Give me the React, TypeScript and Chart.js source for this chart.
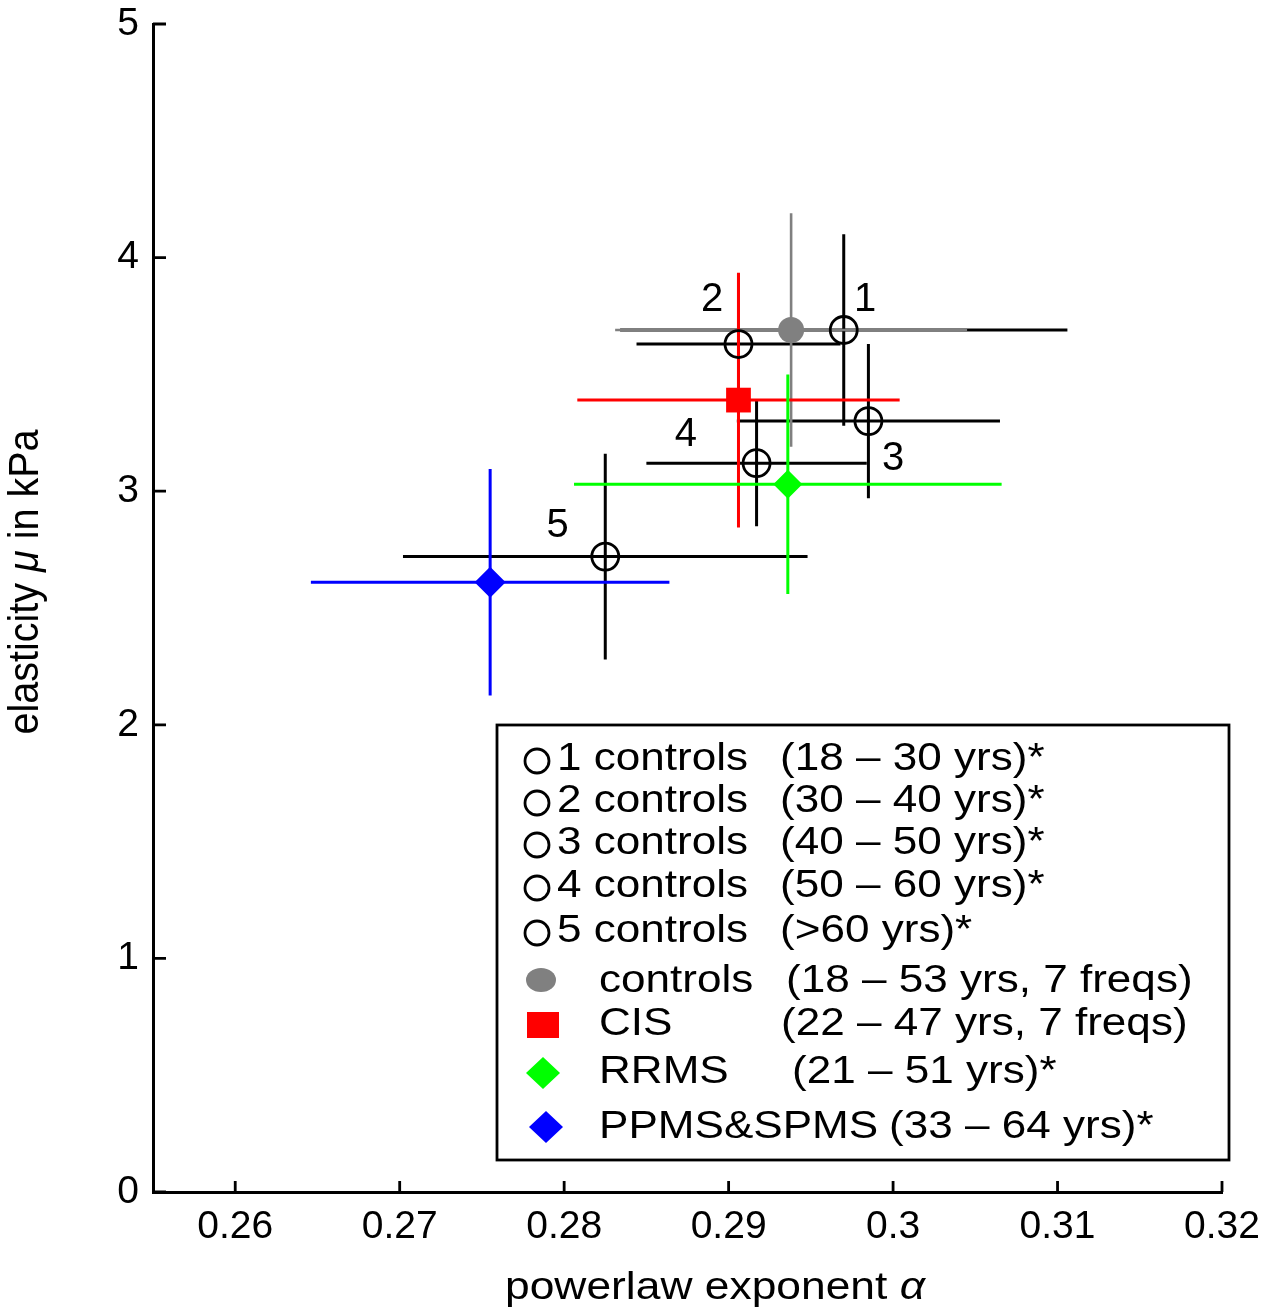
import React, { useEffect, useRef } from 'react';
import { Chart, registerables } from 'chart.js';

Chart.register(...registerables);

// ---------- data ----------
const groupNames = ['1 controls', '2 controls', '3 controls', '4 controls', '5 controls', 'controls', 'CIS', 'RRMS', 'PPMS&SPMS'];
const groupRanges = ['(18 – 30 yrs)*', '(30 – 40 yrs)*', '(40 – 50 yrs)*', '(50 – 60 yrs)*', '(>60 yrs)*', '(18 – 53 yrs, 7 freqs)', '(22 – 47 yrs, 7 freqs)', '(21 – 51 yrs)*', '(33 – 64 yrs)*'];
const alphaMean = [0.2970, 0.2906, 0.2985, 0.2917, 0.2825, 0.2938, 0.2906, 0.2936, 0.2755];
const alphaErr = [0.0136, 0.0062, 0.0080, 0.0067, 0.0123, 0.0107, 0.0098, 0.0130, 0.0109];
const muMean = [3.69, 3.63, 3.30, 3.12, 2.72, 3.69, 3.39, 3.03, 2.61];
const muErr = [0.41, 0.30, 0.33, 0.27, 0.44, 0.50, 0.545, 0.47, 0.485];
const pointLabels = ['1', '2', '3', '4', '5'];
const pointLabelX = [0.2983, 0.2890, 0.3000, 0.2874, 0.2796];
const pointLabelY = [3.82, 3.82, 3.14, 3.24, 2.85];
const xTicks = [0.26, 0.27, 0.28, 0.29, 0.30, 0.31, 0.32];
const yTicks = [0, 1, 2, 3, 4, 5];
const xTitle = 'powerlaw exponent ';
const xTitleSymbol = 'α';
const yTitleA = 'elasticity ';
const yTitleSymbol = 'μ';
const yTitleB = ' in kPa';

// ---------- styles ----------
const W = 1288;
const H = 1313;
const FONT = '"Liberation Sans", Arial, Helvetica, sans-serif';
const colors = ['#000000', '#000000', '#000000', '#000000', '#000000', '#808080', '#ff0000', '#00ff00', '#0000ff'];
const styles = ['circle', 'circle', 'circle', 'circle', 'circle', 'circle', 'rect', 'rectRot', 'rectRot'];
const radii = [13.5, 13.5, 13.5, 13.5, 13.5, 13, 17.5, 14.5, 15.5];
const barWidths = [3, 3, 3, 3, 3, 2.6, 3, 3, 3];

// legend layout (page pixels)
const LEG = { left: 497, top: 725, right: 1229, bottom: 1160 };
const legMarkerY = [761, 803, 845, 888, 933, 980, 1025, 1073, 1127];
const legMarkerX = [537, 537, 537, 537, 537, 541, 543, 543, 546];
const legBaseline = [770, 812, 854, 897, 942, 992, 1035, 1083, 1138];
const legNameX = [557, 557, 557, 557, 557, 599, 599, 599, 599];
const legRangeX = [780, 780, 780, 780, 780, 786, 781, 792, 889];

function drawText(ctx: CanvasRenderingContext2D, text: string, x: number, y: number, font: string, sx: number) {
  ctx.save();
  ctx.font = font;
  ctx.translate(x, y);
  ctx.scale(sx, 1);
  ctx.fillText(text, 0, 0);
  ctx.restore();
}

const customPlugin = {
  id: 'customDraw',
  beforeDatasetsDraw(chart: any) {
    const { ctx } = chart;
    const xs = chart.scales.x;
    const ys = chart.scales.y;
    ctx.save();
    ctx.lineCap = 'butt';
    for (let i = 0; i < groupNames.length; i++) {
      ctx.strokeStyle = colors[i];
      ctx.lineWidth = barWidths[i];
      const cx = xs.getPixelForValue(alphaMean[i]);
      const cy = ys.getPixelForValue(muMean[i]);
      ctx.beginPath();
      ctx.moveTo(xs.getPixelForValue(alphaMean[i] - alphaErr[i]), cy);
      ctx.lineTo(xs.getPixelForValue(alphaMean[i] + alphaErr[i]), cy);
      ctx.moveTo(cx, ys.getPixelForValue(muMean[i] + muErr[i]));
      ctx.lineTo(cx, ys.getPixelForValue(muMean[i] - muErr[i]));
      ctx.stroke();
    }
    ctx.restore();
  },
  afterDraw(chart: any) {
    const { ctx, chartArea } = chart;
    const xs = chart.scales.x;
    const ys = chart.scales.y;
    ctx.save();
    // inward tick marks
    ctx.strokeStyle = '#000';
    ctx.lineWidth = 2.8;
    ctx.beginPath();
    xs.ticks.forEach((t: any) => {
      const px = xs.getPixelForValue(t.value);
      ctx.moveTo(px, chartArea.bottom);
      ctx.lineTo(px, chartArea.bottom - 11);
    });
    ys.ticks.forEach((t: any) => {
      const py = ys.getPixelForValue(t.value);
      ctx.moveTo(chartArea.left, py);
      ctx.lineTo(chartArea.left + 13, py);
    });
    ctx.stroke();

    // point labels
    ctx.fillStyle = '#000';
    ctx.font = `40px ${FONT}`;
    ctx.textAlign = 'center';
    ctx.textBaseline = 'middle';
    pointLabels.forEach((lab, i) => {
      ctx.fillText(lab, xs.getPixelForValue(pointLabelX[i]), ys.getPixelForValue(pointLabelY[i]));
    });

    // legend box
    ctx.fillStyle = '#fff';
    ctx.fillRect(LEG.left, LEG.top, LEG.right - LEG.left, LEG.bottom - LEG.top);
    ctx.strokeStyle = '#000';
    ctx.lineWidth = 2.8;
    ctx.strokeRect(LEG.left, LEG.top, LEG.right - LEG.left, LEG.bottom - LEG.top);

    for (let i = 0; i < groupNames.length; i++) {
      const mx = legMarkerX[i];
      const my = legMarkerY[i];
      ctx.beginPath();
      if (styles[i] === 'circle' && i < 5) {
        ctx.arc(mx, my, 12, 0, Math.PI * 2);
        ctx.lineWidth = 2.8;
        ctx.strokeStyle = '#000';
        ctx.stroke();
      } else if (styles[i] === 'circle') {
        ctx.ellipse(mx, my, 15, 12, 0, 0, Math.PI * 2);
        ctx.fillStyle = colors[i];
        ctx.fill();
      } else if (styles[i] === 'rect') {
        ctx.rect(mx - 16, my - 13, 32, 26);
        ctx.fillStyle = colors[i];
        ctx.fill();
      } else {
        ctx.moveTo(mx, my - 16);
        ctx.lineTo(mx + 17, my);
        ctx.lineTo(mx, my + 16);
        ctx.lineTo(mx - 17, my);
        ctx.closePath();
        ctx.fillStyle = colors[i];
        ctx.fill();
      }
      ctx.fillStyle = '#000';
      ctx.textAlign = 'left';
      ctx.textBaseline = 'alphabetic';
      drawText(ctx, groupNames[i], legNameX[i], legBaseline[i], `39px ${FONT}`, 1.13);
      drawText(ctx, groupRanges[i], legRangeX[i], legBaseline[i], `39px ${FONT}`, 1.13);
    }

    // x title
    ctx.fillStyle = '#000';
    ctx.textAlign = 'left';
    ctx.textBaseline = 'alphabetic';
    const f1 = `38px ${FONT}`;
    const f2 = `italic 38px ${FONT}`;
    ctx.font = f1;
    const w1 = ctx.measureText(xTitle).width;
    ctx.font = f2;
    const w2 = ctx.measureText(xTitleSymbol).width;
    const sxT = 420 / (w1 + w2);
    ctx.save();
    ctx.translate(505, 1299);
    ctx.scale(sxT, 1);
    ctx.font = f1;
    ctx.fillText(xTitle, 0, 0);
    ctx.font = f2;
    ctx.fillText(xTitleSymbol, w1, 0);
    ctx.restore();

    // y title
    const g1 = `39px ${FONT}`;
    const g2 = `italic 39px ${FONT}`;
    ctx.font = g1;
    const a = ctx.measureText(yTitleA).width;
    const c = ctx.measureText(yTitleB).width;
    ctx.font = g2;
    const b = ctx.measureText(yTitleSymbol).width;
    const total = a + b + c;
    ctx.save();
    ctx.translate(38, 582);
    ctx.rotate(-Math.PI / 2);
    ctx.scale(305 / total, 1.1);
    ctx.font = g1;
    ctx.fillText(yTitleA, -total / 2, 0);
    ctx.font = g2;
    ctx.fillText(yTitleSymbol, -total / 2 + a, 0);
    ctx.font = g1;
    ctx.fillText(yTitleB, -total / 2 + a + b, 0);
    ctx.restore();

    ctx.restore();
  },
};

export default function App() {
  const ref = useRef<HTMLCanvasElement>(null);
  useEffect(() => {
    const canvas = ref.current;
    if (!canvas) return;
    const datasets = groupNames.map((name, i) => ({
      label: `${name} ${groupRanges[i]}`,
      data: [{ x: alphaMean[i], y: muMean[i] }],
      pointStyle: styles[i],
      pointRadius: radii[i],
      pointHoverRadius: radii[i],
      pointBackgroundColor: i < 5 ? 'rgba(0,0,0,0)' : colors[i],
      pointBorderColor: colors[i],
      pointBorderWidth: i < 5 ? 2.8 : 0,
      showLine: false,
    }));
    const chart = new Chart(canvas, {
      type: 'scatter',
      data: { datasets },
      options: {
        animation: false,
        responsive: false,
        devicePixelRatio: 1,
        layout: { padding: { left: 0, top: 24, right: 1288 - 1222, bottom: 0 } },
        plugins: { legend: { display: false }, tooltip: { enabled: false } },
        scales: {
          x: {
            type: 'linear',
            min: 0.255,
            max: 0.32,
            grid: { display: false },
            border: { display: true, color: '#000', width: 3 },
            afterBuildTicks: (scale: any) => {
              scale.ticks = xTicks.map((v) => ({ value: v }));
            },
            afterFit: (scale: any) => {
              scale.height = H - 1192;
              scale.paddingLeft = 0;
              scale.paddingRight = 0;
            },
            ticks: {
              color: '#000',
              font: { family: FONT, size: 39 },
              padding: 4,
              maxRotation: 0,
              autoSkip: false,
              callback: (v: any) => String(parseFloat(Number(v).toFixed(2))),
            },
          },
          y: {
            type: 'linear',
            min: 0,
            max: 5,
            grid: { display: false },
            border: { display: true, color: '#000', width: 3 },
            afterBuildTicks: (scale: any) => {
              scale.ticks = yTicks.map((v) => ({ value: v }));
            },
            afterFit: (scale: any) => {
              scale.width = 153;
              scale.paddingTop = 0;
              scale.paddingBottom = 0;
            },
            ticks: {
              color: '#000',
              font: { family: FONT, size: 39 },
              padding: 6,
              autoSkip: false,
              callback: (v: any) => String(v),
            },
          },
        },
      },
      plugins: [customPlugin],
    } as any);
    return () => chart.destroy();
  }, []);
  return (
    <div style={{ position: 'absolute', left: 0, top: 0, width: W, height: H, background: '#fff' }}>
      <canvas ref={ref} width={W} height={H} style={{ width: W, height: H, display: 'block' }} />
    </div>
  );
}
